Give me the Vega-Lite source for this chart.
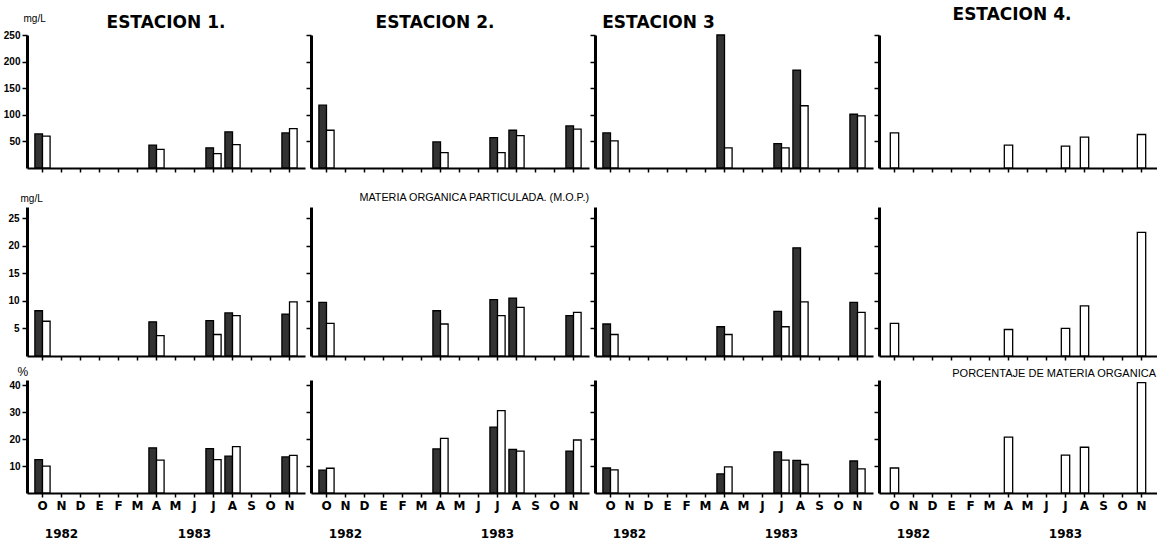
{
"$schema": "https://vega.github.io/schema/vega-lite/v6.json",
"background": "white",
"padding": {"left": 3, "top": 6, "right": 0, "bottom": 0},
"columns": 4,
"align": "each",
"bounds": "full",
"spacing": {"row": 4, "column": 0},
"data": {"values": [
{"e":1,"v":"T","m":1,"t":"s","val":64},{"e":1,"v":"T","m":1,"t":"f","val":60},{"e":1,"v":"T","m":7,"t":"s","val":43},{"e":1,"v":"T","m":7,"t":"f","val":35},{"e":1,"v":"T","m":10,"t":"s","val":38},{"e":1,"v":"T","m":10,"t":"f","val":27},{"e":1,"v":"T","m":11,"t":"s","val":68},{"e":1,"v":"T","m":11,"t":"f","val":44},{"e":1,"v":"T","m":14,"t":"s","val":66},{"e":1,"v":"T","m":14,"t":"f","val":74},
{"e":2,"v":"T","m":1,"t":"s","val":118},{"e":2,"v":"T","m":1,"t":"f","val":71},{"e":2,"v":"T","m":7,"t":"s","val":49},{"e":2,"v":"T","m":7,"t":"f","val":29},{"e":2,"v":"T","m":10,"t":"s","val":57},{"e":2,"v":"T","m":10,"t":"f","val":29},{"e":2,"v":"T","m":11,"t":"s","val":71},{"e":2,"v":"T","m":11,"t":"f","val":61},{"e":2,"v":"T","m":14,"t":"s","val":79},{"e":2,"v":"T","m":14,"t":"f","val":73},
{"e":3,"v":"T","m":1,"t":"s","val":66},{"e":3,"v":"T","m":1,"t":"f","val":51},{"e":3,"v":"T","m":7,"t":"s","val":250},{"e":3,"v":"T","m":7,"t":"f","val":38},{"e":3,"v":"T","m":10,"t":"s","val":46},{"e":3,"v":"T","m":10,"t":"f","val":38},{"e":3,"v":"T","m":11,"t":"s","val":184},{"e":3,"v":"T","m":11,"t":"f","val":117},{"e":3,"v":"T","m":14,"t":"s","val":101},{"e":3,"v":"T","m":14,"t":"f","val":98},
{"e":4,"v":"T","m":1,"t":"f","val":66},{"e":4,"v":"T","m":7,"t":"f","val":43},{"e":4,"v":"T","m":10,"t":"f","val":41},{"e":4,"v":"T","m":11,"t":"f","val":58},{"e":4,"v":"T","m":14,"t":"f","val":63},
{"e":1,"v":"M","m":1,"t":"s","val":8.2},{"e":1,"v":"M","m":1,"t":"f","val":6.3},{"e":1,"v":"M","m":7,"t":"s","val":6.2},{"e":1,"v":"M","m":7,"t":"f","val":3.7},{"e":1,"v":"M","m":10,"t":"s","val":6.4},{"e":1,"v":"M","m":10,"t":"f","val":3.9},{"e":1,"v":"M","m":11,"t":"s","val":7.8},{"e":1,"v":"M","m":11,"t":"f","val":7.3},{"e":1,"v":"M","m":14,"t":"s","val":7.6},{"e":1,"v":"M","m":14,"t":"f","val":9.8},
{"e":2,"v":"M","m":1,"t":"s","val":9.7},{"e":2,"v":"M","m":1,"t":"f","val":5.9},{"e":2,"v":"M","m":7,"t":"s","val":8.2},{"e":2,"v":"M","m":7,"t":"f","val":5.8},{"e":2,"v":"M","m":10,"t":"s","val":10.2},{"e":2,"v":"M","m":10,"t":"f","val":7.3},{"e":2,"v":"M","m":11,"t":"s","val":10.5},{"e":2,"v":"M","m":11,"t":"f","val":8.8},{"e":2,"v":"M","m":14,"t":"s","val":7.3},{"e":2,"v":"M","m":14,"t":"f","val":7.9},
{"e":3,"v":"M","m":1,"t":"s","val":5.8},{"e":3,"v":"M","m":1,"t":"f","val":3.9},{"e":3,"v":"M","m":7,"t":"s","val":5.3},{"e":3,"v":"M","m":7,"t":"f","val":3.9},{"e":3,"v":"M","m":10,"t":"s","val":8.1},{"e":3,"v":"M","m":10,"t":"f","val":5.3},{"e":3,"v":"M","m":11,"t":"s","val":19.6},{"e":3,"v":"M","m":11,"t":"f","val":9.8},{"e":3,"v":"M","m":14,"t":"s","val":9.7},{"e":3,"v":"M","m":14,"t":"f","val":7.9},
{"e":4,"v":"M","m":1,"t":"f","val":5.9},{"e":4,"v":"M","m":7,"t":"f","val":4.8},{"e":4,"v":"M","m":10,"t":"f","val":5.0},{"e":4,"v":"M","m":11,"t":"f","val":9.1},{"e":4,"v":"M","m":14,"t":"f","val":22.4},
{"e":1,"v":"P","m":1,"t":"s","val":12.4},{"e":1,"v":"P","m":1,"t":"f","val":10},{"e":1,"v":"P","m":7,"t":"s","val":16.8},{"e":1,"v":"P","m":7,"t":"f","val":12.2},{"e":1,"v":"P","m":10,"t":"s","val":16.5},{"e":1,"v":"P","m":10,"t":"f","val":12.4},{"e":1,"v":"P","m":11,"t":"s","val":13.7},{"e":1,"v":"P","m":11,"t":"f","val":17.2},{"e":1,"v":"P","m":14,"t":"s","val":13.4},{"e":1,"v":"P","m":14,"t":"f","val":14},
{"e":2,"v":"P","m":1,"t":"s","val":8.5},{"e":2,"v":"P","m":1,"t":"f","val":9.2},{"e":2,"v":"P","m":7,"t":"s","val":16.4},{"e":2,"v":"P","m":7,"t":"f","val":20.3},{"e":2,"v":"P","m":10,"t":"s","val":24.5},{"e":2,"v":"P","m":10,"t":"f","val":30.6},{"e":2,"v":"P","m":11,"t":"s","val":16.2},{"e":2,"v":"P","m":11,"t":"f","val":15.6},{"e":2,"v":"P","m":14,"t":"s","val":15.6},{"e":2,"v":"P","m":14,"t":"f","val":19.7},
{"e":3,"v":"P","m":1,"t":"s","val":9.3},{"e":3,"v":"P","m":1,"t":"f","val":8.6},{"e":3,"v":"P","m":7,"t":"s","val":7.1},{"e":3,"v":"P","m":7,"t":"f","val":9.7},{"e":3,"v":"P","m":10,"t":"s","val":15.3},{"e":3,"v":"P","m":10,"t":"f","val":12.2},{"e":3,"v":"P","m":11,"t":"s","val":12.1},{"e":3,"v":"P","m":11,"t":"f","val":10.6},{"e":3,"v":"P","m":14,"t":"s","val":11.9},{"e":3,"v":"P","m":14,"t":"f","val":9.0},
{"e":4,"v":"P","m":1,"t":"f","val":9.3},{"e":4,"v":"P","m":7,"t":"f","val":20.8},{"e":4,"v":"P","m":10,"t":"f","val":14.1},{"e":4,"v":"P","m":11,"t":"f","val":17},{"e":4,"v":"P","m":14,"t":"f","val":41}
]},
"config": {
  "view": {"stroke": null},
  "title": {"font": "DejaVu Sans", "fontWeight": "bold", "fontSize": 17, "color": "black"},
  "axis": {"grid": false, "domainColor": "black", "tickColor": "black", "labelColor": "black", "titleColor": "black", "labelFont": "Liberation Sans", "labelFontWeight": "bold", "labelFontSize": 10, "titleFont": "Liberation Sans", "titleFontWeight": "normal", "titleFontSize": 10},
  "axisX": {"domainWidth": 2, "tickSize": 4, "tickWidth": 1.5, "labels": false},
  "axisY": {"domainWidth": 3, "tickSize": 5, "tickWidth": 1.5, "labels": false}
},
"concat": [
  {"width": 278, "height": 133, "title": {"text": "ESTACION 1.", "offset": -19},
   "transform": [{"filter": "datum.e == 1 && datum.v == 'T'"}],
   "mark": {"type": "bar", "stroke": "black", "strokeWidth": 1.3},
   "encoding": {
    "x": {"field": "m", "type": "ordinal", "title": null, "scale": {"domain": [1,2,3,4,5,6,7,8,9,10,11,12,13,14], "paddingInner": 0.2, "paddingOuter": 0.415}},
    "xOffset": {"field": "t", "scale": {"domain": ["s","f"]}},
    "y": {"field": "val", "type": "quantitative", "scale": {"domain": [0,250]}, "axis": {"labels": true, "values": [50,100,150,200,250], "title": "mg/L", "titleAngle": 0, "titleAlign": "left", "titleBaseline": "bottom", "titleX": -4, "titleY": -12}},
    "fill": {"field": "t", "scale": {"domain": ["s","f"], "range": ["#333333","#ffffff"]}, "legend": null}
   }},
  {"width": 278, "height": 133, "title": {"text": "ESTACION 2.", "offset": 2, "dx": -15},
   "transform": [{"filter": "datum.e == 2 && datum.v == 'T'"}],
   "mark": {"type": "bar", "stroke": "black", "strokeWidth": 1.3},
   "encoding": {
    "x": {"field": "m", "type": "ordinal", "title": null, "scale": {"domain": [1,2,3,4,5,6,7,8,9,10,11,12,13,14], "paddingInner": 0.2, "paddingOuter": 0.415}},
    "xOffset": {"field": "t", "scale": {"domain": ["s","f"]}},
    "y": {"field": "val", "type": "quantitative", "scale": {"domain": [0,250]}, "axis": {"values": [50,100,150,200,250], "title": null}},
    "fill": {"field": "t", "scale": {"domain": ["s","f"], "range": ["#333333","#ffffff"]}, "legend": null}
   }},
  {"width": 278, "height": 133, "title": {"text": "ESTACION 3", "offset": 2, "anchor": "start", "dx": 13},
   "transform": [{"filter": "datum.e == 3 && datum.v == 'T'"}],
   "mark": {"type": "bar", "stroke": "black", "strokeWidth": 1.3},
   "encoding": {
    "x": {"field": "m", "type": "ordinal", "title": null, "scale": {"domain": [1,2,3,4,5,6,7,8,9,10,11,12,13,14], "paddingInner": 0.2, "paddingOuter": 0.415}},
    "xOffset": {"field": "t", "scale": {"domain": ["s","f"]}},
    "y": {"field": "val", "type": "quantitative", "scale": {"domain": [0,250]}, "axis": {"values": [50,100,150,200,250], "title": null}},
    "fill": {"field": "t", "scale": {"domain": ["s","f"], "range": ["#333333","#ffffff"]}, "legend": null}
   }},
  {"width": 278, "height": 133, "title": {"text": "ESTACION 4.", "offset": 10, "dx": -6},
   "transform": [{"filter": "datum.e == 4 && datum.v == 'T'"}],
   "mark": {"type": "bar", "stroke": "black", "strokeWidth": 1.3, "width": {"band": 0.55}},
   "encoding": {
    "x": {"field": "m", "type": "ordinal", "title": null, "scale": {"domain": [1,2,3,4,5,6,7,8,9,10,11,12,13,14], "paddingInner": 0.2, "paddingOuter": 0.415}},
    "y": {"field": "val", "type": "quantitative", "scale": {"domain": [0,250]}, "axis": {"values": [50,100,150,200,250], "title": null}},
    "fill": {"field": "t", "scale": {"domain": ["s","f"], "range": ["#333333","#ffffff"]}, "legend": null}
   }},
  {"width": 278, "height": 149,
   "transform": [{"filter": "datum.e == 1 && datum.v == 'M'"}],
   "mark": {"type": "bar", "stroke": "black", "strokeWidth": 1.3},
   "encoding": {
    "x": {"field": "m", "type": "ordinal", "title": null, "scale": {"domain": [1,2,3,4,5,6,7,8,9,10,11,12,13,14], "paddingInner": 0.2, "paddingOuter": 0.415}},
    "xOffset": {"field": "t", "scale": {"domain": ["s","f"]}},
    "y": {"field": "val", "type": "quantitative", "scale": {"domain": [0,27]}, "axis": {"labels": true, "values": [5,10,15,20,25], "labelAlign": "right", "labelBaseline": "middle", "labelPadding": 3, "offset": 0, "title": "mg/L", "titleAngle": 0, "titleAlign": "left", "titleBaseline": "bottom", "titleX": -7, "titleY": -4}},
    "fill": {"field": "t", "scale": {"domain": ["s","f"], "range": ["#333333","#ffffff"]}, "legend": null}
   }},
  {"width": 278, "height": 149, "title": {"text": [" ", "MATERIA ORGANICA PARTICULADA. (M.O.P.)"], "lineHeight": 14.5, "anchor": "end", "fontSize": 10.8, "fontWeight": "normal", "font": "Liberation Sans", "offset": 4},
   "transform": [{"filter": "datum.e == 2 && datum.v == 'M'"}],
   "mark": {"type": "bar", "stroke": "black", "strokeWidth": 1.3},
   "encoding": {
    "x": {"field": "m", "type": "ordinal", "title": null, "scale": {"domain": [1,2,3,4,5,6,7,8,9,10,11,12,13,14], "paddingInner": 0.2, "paddingOuter": 0.415}},
    "xOffset": {"field": "t", "scale": {"domain": ["s","f"]}},
    "y": {"field": "val", "type": "quantitative", "scale": {"domain": [0,27]}, "axis": {"values": [5,10,15,20,25], "title": null}},
    "fill": {"field": "t", "scale": {"domain": ["s","f"], "range": ["#333333","#ffffff"]}, "legend": null}
   }},
  {"width": 278, "height": 149,
   "transform": [{"filter": "datum.e == 3 && datum.v == 'M'"}],
   "mark": {"type": "bar", "stroke": "black", "strokeWidth": 1.3},
   "encoding": {
    "x": {"field": "m", "type": "ordinal", "title": null, "scale": {"domain": [1,2,3,4,5,6,7,8,9,10,11,12,13,14], "paddingInner": 0.2, "paddingOuter": 0.415}},
    "xOffset": {"field": "t", "scale": {"domain": ["s","f"]}},
    "y": {"field": "val", "type": "quantitative", "scale": {"domain": [0,27]}, "axis": {"values": [5,10,15,20,25], "title": null}},
    "fill": {"field": "t", "scale": {"domain": ["s","f"], "range": ["#333333","#ffffff"]}, "legend": null}
   }},
  {"width": 278, "height": 149,
   "transform": [{"filter": "datum.e == 4 && datum.v == 'M'"}],
   "mark": {"type": "bar", "stroke": "black", "strokeWidth": 1.3, "width": {"band": 0.55}},
   "encoding": {
    "x": {"field": "m", "type": "ordinal", "title": null, "scale": {"domain": [1,2,3,4,5,6,7,8,9,10,11,12,13,14], "paddingInner": 0.2, "paddingOuter": 0.415}},
    "y": {"field": "val", "type": "quantitative", "scale": {"domain": [0,27]}, "axis": {"values": [5,10,15,20,25], "title": null}},
    "fill": {"field": "t", "scale": {"domain": ["s","f"], "range": ["#333333","#ffffff"]}, "legend": null}
   }},
  {"width": 278, "height": 113,
   "transform": [{"filter": "datum.e == 1 && datum.v == 'P'"}],
   "mark": {"type": "bar", "stroke": "black", "strokeWidth": 1.3},
   "encoding": {
    "x": {"field": "m", "type": "ordinal", "title": null, "scale": {"domain": [1,2,3,4,5,6,7,8,9,10,11,12,13,14], "paddingInner": 0.2, "paddingOuter": 0.415},
      "axis": {"labels": true, "labelAngle": 0, "labelFont": "DejaVu Sans", "labelFontWeight": "bold", "labelFontSize": 12, "labelLineHeight": 28, "labelPadding": 3,
        "labelExpr": "datum.value == 2 ? ['N', '1982'] : datum.value == 9 ? ['J', '1983'] : ['O','N','D','E','F','M','A','M','J','J','A','S','O','N'][datum.value - 1]"}},
    "xOffset": {"field": "t", "scale": {"domain": ["s","f"]}},
    "y": {"field": "val", "type": "quantitative", "scale": {"domain": [0,42]}, "axis": {"labels": true, "values": [10,20,30,40], "title": "%", "titleAngle": 0, "titleAlign": "left", "titleBaseline": "bottom", "titleX": -10, "titleY": -2, "titleFontSize": 12}},
    "fill": {"field": "t", "scale": {"domain": ["s","f"], "range": ["#333333","#ffffff"]}, "legend": null}
   }},
  {"width": 278, "height": 113,
   "transform": [{"filter": "datum.e == 2 && datum.v == 'P'"}],
   "mark": {"type": "bar", "stroke": "black", "strokeWidth": 1.3},
   "encoding": {
    "x": {"field": "m", "type": "ordinal", "title": null, "scale": {"domain": [1,2,3,4,5,6,7,8,9,10,11,12,13,14], "paddingInner": 0.2, "paddingOuter": 0.415},
      "axis": {"labels": true, "labelAngle": 0, "labelFont": "DejaVu Sans", "labelFontWeight": "bold", "labelFontSize": 12, "labelLineHeight": 28, "labelPadding": 3,
        "labelExpr": "datum.value == 2 ? ['N', '1982'] : datum.value == 10 ? ['J', '1983'] : ['O','N','D','E','F','M','A','M','J','J','A','S','O','N'][datum.value - 1]"}},
    "xOffset": {"field": "t", "scale": {"domain": ["s","f"]}},
    "y": {"field": "val", "type": "quantitative", "scale": {"domain": [0,42]}, "axis": {"values": [10,20,30,40], "title": null}},
    "fill": {"field": "t", "scale": {"domain": ["s","f"], "range": ["#333333","#ffffff"]}, "legend": null}
   }},
  {"width": 278, "height": 113,
   "transform": [{"filter": "datum.e == 3 && datum.v == 'P'"}],
   "mark": {"type": "bar", "stroke": "black", "strokeWidth": 1.3},
   "encoding": {
    "x": {"field": "m", "type": "ordinal", "title": null, "scale": {"domain": [1,2,3,4,5,6,7,8,9,10,11,12,13,14], "paddingInner": 0.2, "paddingOuter": 0.415},
      "axis": {"labels": true, "labelAngle": 0, "labelFont": "DejaVu Sans", "labelFontWeight": "bold", "labelFontSize": 12, "labelLineHeight": 28, "labelPadding": 3,
        "labelExpr": "datum.value == 2 ? ['N', '1982'] : datum.value == 10 ? ['J', '1983'] : ['O','N','D','E','F','M','A','M','J','J','A','S','O','N'][datum.value - 1]"}},
    "xOffset": {"field": "t", "scale": {"domain": ["s","f"]}},
    "y": {"field": "val", "type": "quantitative", "scale": {"domain": [0,42]}, "axis": {"values": [10,20,30,40], "title": null}},
    "fill": {"field": "t", "scale": {"domain": ["s","f"], "range": ["#333333","#ffffff"]}, "legend": null}
   }},
  {"width": 278, "height": 113, "title": {"text": "PORCENTAJE DE MATERIA ORGANICA", "anchor": "start", "dx": 79, "fontSize": 11, "fontWeight": "normal", "font": "Liberation Sans", "offset": 1},
   "transform": [{"filter": "datum.e == 4 && datum.v == 'P'"}],
   "mark": {"type": "bar", "stroke": "black", "strokeWidth": 1.3, "width": {"band": 0.55}},
   "encoding": {
    "x": {"field": "m", "type": "ordinal", "title": null, "scale": {"domain": [1,2,3,4,5,6,7,8,9,10,11,12,13,14], "paddingInner": 0.2, "paddingOuter": 0.415},
      "axis": {"labels": true, "labelAngle": 0, "labelFont": "DejaVu Sans", "labelFontWeight": "bold", "labelFontSize": 12, "labelLineHeight": 28, "labelPadding": 3,
        "labelExpr": "datum.value == 2 ? ['N', '1982'] : datum.value == 10 ? ['J', '1983'] : ['O','N','D','E','F','M','A','M','J','J','A','S','O','N'][datum.value - 1]"}},
    "y": {"field": "val", "type": "quantitative", "scale": {"domain": [0,42]}, "axis": {"values": [10,20,30,40], "title": null}},
    "fill": {"field": "t", "scale": {"domain": ["s","f"], "range": ["#333333","#ffffff"]}, "legend": null}
   }}
]
}
